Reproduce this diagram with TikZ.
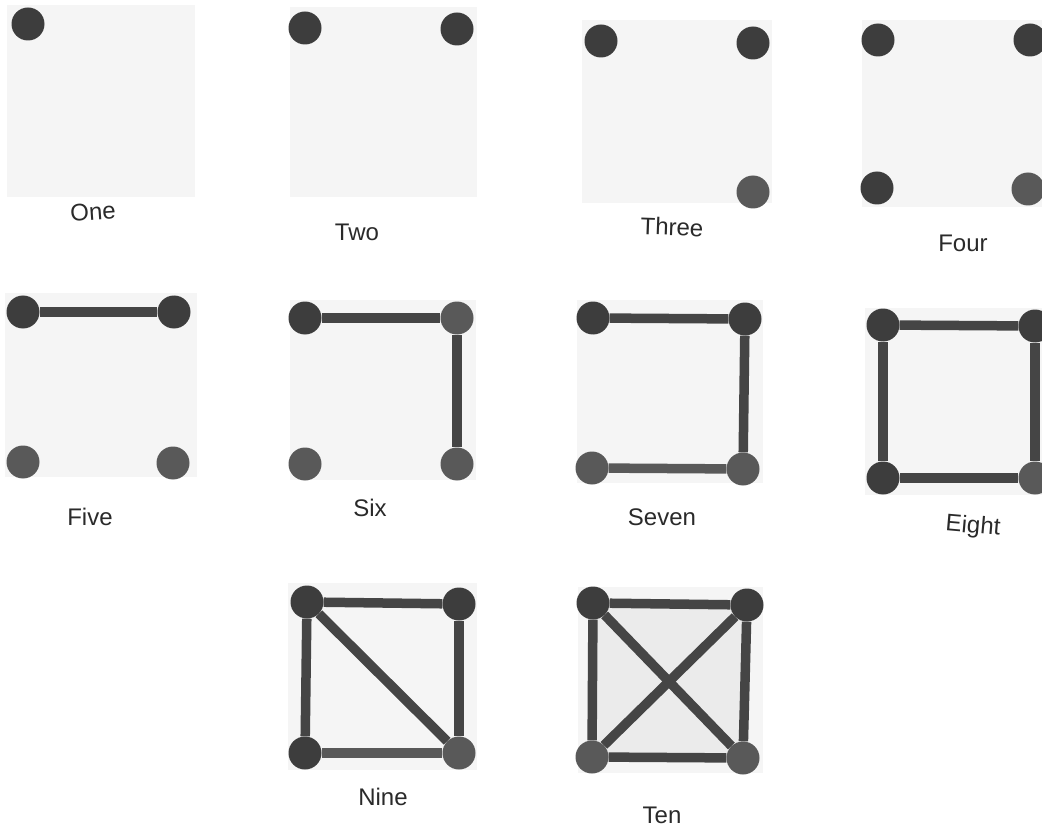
\documentclass[tikz,border=0pt]{standalone}
\usepackage{fontspec}
\setmainfont{Liberation Sans}
\begin{document}
\begin{tikzpicture}[x=1pt,y=-1pt,
  panel/.style={fill=panelgray,draw=none},
  dot/.style={circle,fill=dotdark,draw=none,minimum size=33pt,inner sep=0pt},
  dotl/.style={dot,fill=dotlight},
  edge/.style={draw=linegray,line width=9.5pt},
  edgel/.style={draw=dotlight,line width=9.5pt},
  lbl/.style={font=\fontsize{24}{28}\selectfont,text=textgray,inner sep=0pt}]
\definecolor{panelgray}{HTML}{F5F5F5}
\definecolor{panelmid}{HTML}{EBEBEB}
\definecolor{dotdark}{HTML}{3D3D3D}
\definecolor{dotlight}{HTML}{595959}
\definecolor{linegray}{HTML}{454545}
\definecolor{textgray}{HTML}{2A2A2A}
\useasboundingbox[fill=white] (0,0) rectangle (1042,829);
% panels
\fill[panel] (7,5) rectangle (195,197);
\fill[panel] (290,7) rectangle (477,197);
\fill[panel] (582,20) rectangle (772,203);
\fill[panel] (862,20) rectangle (1042,207);
\fill[panel] (5,293) rectangle (197,477);
\fill[panel] (290,300) rectangle (476,480);
\fill[panel] (577,300) rectangle (763,483);
\fill[panel] (865,308) rectangle (1042,495);
\fill[panel] (288,583) rectangle (477,770);
\fill[panel] (578,587) rectangle (763,773);
\fill[panelmid] (593,605) rectangle (745,758);
% One
\node[dot] (a1) at (28,24) {};
\node[lbl,rotate=4] (la) at (93,212) {One};
% Two
\node[dot] (b1) at (305,28) {};
\node[dot] (b2) at (457,29) {};
\node[lbl] (lb) at (357,232) {Two};
% Three
\node[dot] (c1) at (601,41) {};
\node[dot] (c2) at (753,43) {};
\node[dotl] (c3) at (753,192) {};
\node[lbl,rotate=-2] (lc) at (672,227) {Three};
% Four
\node[dot] (d1) at (878,40) {};
\node[dot] (d2) at (1030,40) {};
\node[dot] (d3) at (877,188) {};
\node[dotl] (d4) at (1028,189) {};
\node[lbl] (ld) at (963,243) {Four};
% Five
\node[dot] (e1) at (23,312) {};
\node[dot] (e2) at (174,312) {};
\node[dotl] (e3) at (23,462) {};
\node[dotl] (e4) at (173,463) {};
\draw[edge] (e1) -- (e2);
\node[lbl] (le) at (90,517) {Five};
% Six
\node[dot] (f1) at (305,318) {};
\node[dotl] (f2) at (457,318) {};
\node[dotl] (f3) at (305,464) {};
\node[dotl] (f4) at (457,464) {};
\draw[edge] (f1) -- (f2);
\draw[edge] (f2) -- (f4);
\node[lbl] (lf) at (370,508) {Six};
% Seven
\node[dot] (g1) at (593,318) {};
\node[dot] (g2) at (745,319) {};
\node[dotl] (g3) at (592,468) {};
\node[dotl] (g4) at (743,469) {};
\draw[edge] (g1) -- (g2);
\draw[edge] (g2) -- (g4);
\draw[edgel] (g3) -- (g4);
\node[lbl] (lg) at (662,517) {Seven};
% Eight
\node[dot] (h1) at (883,325) {};
\node[dot] (h2) at (1035,326) {};
\node[dot] (h3) at (883,478) {};
\node[dotl] (h4) at (1035,478) {};
\draw[edge] (h1) -- (h2);
\draw[edge] (h2) -- (h4);
\draw[edge] (h4) -- (h3);
\draw[edge] (h3) -- (h1);
\node[lbl,rotate=-5] (lh) at (973,527) {Eight};
% Nine
\node[dot] (i1) at (307,602) {};
\node[dot] (i2) at (459,604) {};
\node[dot] (i3) at (305,753) {};
\node[dotl] (i4) at (459,753) {};
\draw[edge] (i1) -- (i2);
\draw[edge] (i2) -- (i4);
\draw[edgel] (i4) -- (i3);
\draw[edge] (i3) -- (i1);
\draw[edge] (i1) -- (i4);
\node[lbl] (li) at (383,797) {Nine};
% Ten
\node[dot] (j1) at (593,603) {};
\node[dot] (j2) at (747,605) {};
\node[dotl] (j3) at (592,757) {};
\node[dotl] (j4) at (743,758) {};
\draw[edge] (j1) -- (j2);
\draw[edge] (j2) -- (j4);
\draw[edge] (j4) -- (j3);
\draw[edge] (j3) -- (j1);
\draw[edge] (j1) -- (j4);
\draw[edge] (j2) -- (j3);
\node[lbl] (lj) at (662,815) {Ten};
\end{tikzpicture}
\end{document}
